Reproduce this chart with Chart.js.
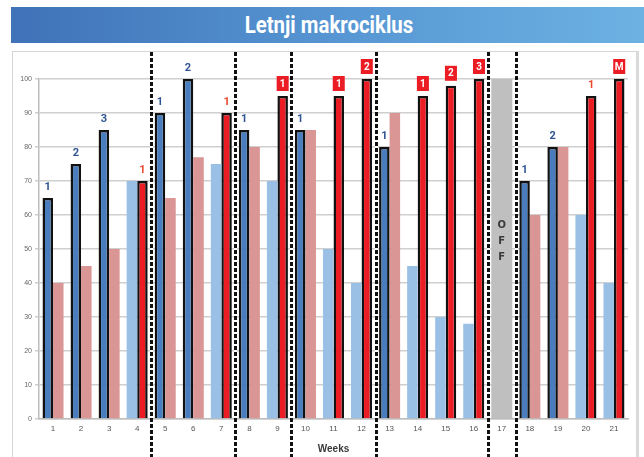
<!DOCTYPE html>
<html lang="sr">
<head>
<meta charset="UTF-8">
<title>Letnji makrociklus</title>
<style>
    body { margin: 0; background: #fff; font-family: Roboto, Arial, sans-serif; }
    .title {
        position: absolute; left: 11px; top: 7px; width: 633px; height: 36px;
        background: linear-gradient(to right, #3f72b8, #5898d4 55%, #6cb2e2);
    }
    .title span {
        position: absolute; left: 0; right: 0; top: 4px; text-align: center;
        color: #fff; font-weight: 700; font-size: 24px; line-height: 28px;
        transform: scaleX(0.85); transform-origin: 326px 0;
    }
    .panel {
        position: absolute; left: 12px; top: 51px; width: 623px; height: 410px;
        border: 1px solid #d6d6d6; border-right: 3px solid #d9d9d9;
    }
    canvas { display: block; }
</style>
</head>
<body>
<div class="title"><span>Letnji makrociklus</span></div>
<div class="panel"><canvas id="chart" width="623" height="410"></canvas></div>

<script src="https://cdn.jsdelivr.net/npm/chart.js"></script>
<script>
// weeks of the summer macrocycle
const weeks = ['1','2','3','4','5','6','7','8','9','10','11','12','13','14','15','16','17','18','19','20','21'];
// left bar (blue) and right bar (red) of each week
const blueBars = [65, 75, 85, 70, 90, 100, 75, 85, 70, 85, 50, 40, 80, 45, 30, 28, null, 70, 80, 60, 40];
const redBars  = [40, 45, 50, 70, 65, 77, 90, 80, 95, 85, 95, 100, 90, 95, 98, 100, null, 60, 80, 95, 100];
// which bar is the main one that week
const mainBar = ['blue','blue','blue','red','blue','blue','red','blue','red','blue','red','red','blue','red','red','red', null,'blue','blue','red','red'];
const marks = ['1','2','3','1','1','2','1','1','1','1','1','2','1','1','2','3','','1','2','1','M'];
const boxedWeeks = ['9','11','12','14','15','16','21'];
const offBar = [null,null,null,null,null,null,null,null,null,null,null,null,null,null,null,null,100,null,null,null,null];
const offText = 'OFF';
const separatorsAfter = ['4','7','9','12','16','17'];

const DARK_BLUE = '#4a7dbd', LIGHT_BLUE = '#9bc0e6', PINK = '#d99694', RED = '#ec1c24';

const blueColors = mainBar.map(m => m === 'blue' ? DARK_BLUE : LIGHT_BLUE);
const redColors = mainBar.map(m => m === 'red' ? RED : PINK);
const blueBorders = mainBar.map(m => m === 'blue' ? 2.5 : 0);
const redBorders = mainBar.map(m => m === 'red' ? 2.5 : 0);

const extras = {
    id: 'extras',
    afterDraw(chart) {
        const ctx = chart.ctx;
        const y = chart.scales.y;
        const x = chart.scales.x;
        ctx.save();

        // week markers above the main bars
        weeks.forEach((w, i) => {
            if (!marks[i]) return;
            const dsIndex = mainBar[i] === 'blue' ? 0 : 1;
            const bar = chart.getDatasetMeta(dsIndex).data[i];
            const top = bar.y;
            ctx.textAlign = 'center';
            ctx.textBaseline = 'middle';
            if (boxedWeeks.includes(w)) {
                ctx.fillStyle = RED;
                ctx.fillRect(bar.x - 6, top - 20, 12, 15);
                ctx.fillStyle = '#fff';
                ctx.font = 'bold 10px Roboto';
                ctx.fillText(marks[i], bar.x, top - 12);
            } else {
                ctx.fillStyle = mainBar[i] === 'blue' ? '#2f5493' : '#e8482c';
                ctx.font = 'bold 11px Roboto';
                ctx.fillText(marks[i], bar.x, top - 11);
            }
        });

        // OFF text inside the rest week
        const offIdx = offBar.findIndex(v => v !== null);
        const ox = x.getPixelForValue(offIdx);
        ctx.fillStyle = '#3a3a3a';
        ctx.font = 'bold 10px "DejaVu Sans"';
        offText.split('').forEach((c, k) => ctx.fillText(c, ox, 173 + k * 16));

        // dashed block separators
        const half = (x.getPixelForValue(1) - x.getPixelForValue(0)) / 2;
        separatorsAfter.forEach(w => {
            const px = Math.round(x.getPixelForValue(weeks.indexOf(w)) + half) + 0.5;
            ctx.strokeStyle = '#fff';
            ctx.lineWidth = 3;
            ctx.setLineDash([]);
            ctx.beginPath(); ctx.moveTo(px, y.top); ctx.lineTo(px, y.bottom); ctx.stroke();
            ctx.strokeStyle = '#111';
            ctx.setLineDash([4, 2]);
            ctx.beginPath(); ctx.moveTo(px, 0); ctx.lineTo(px, chart.height); ctx.stroke();
        });
        ctx.restore();
    }
};

new Chart(document.getElementById('chart'), {
    type: 'bar',
    data: {
        labels: weeks,
        datasets: [
            { label: 'blue', data: blueBars, backgroundColor: blueColors, borderColor: '#111', borderWidth: blueBorders },
            { label: 'red', data: redBars, backgroundColor: redColors, borderColor: '#111', borderWidth: redBorders },
            { label: 'off', data: offBar, backgroundColor: '#bfbfbf', borderWidth: 0, grouped: false }
        ]
    },
    options: {
        responsive: false,
        animation: false,
        categoryPercentage: 0.75,
        barPercentage: 1,
        layout: { padding: { top: 27, right: 8, left: 0, bottom: 0 } },
        plugins: { legend: { display: false }, tooltip: { enabled: false } },
        scales: {
            x: {
                grid: { display: false, drawTicks: false },
                border: { color: '#bdbdbd', width: 1.5 },
                ticks: { color: '#555', font: { size: 8, family: 'Liberation Sans' }, padding: 5 },
                title: { display: true, text: 'Weeks', color: '#3a3a3a', font: { size: 10, weight: 'bold', family: 'Liberation Sans' }, padding: { top: 4, bottom: 7 } },
                afterFit(s) { s.height = 43; }
            },
            y: {
                min: 0, max: 100,
                ticks: { stepSize: 10, color: '#666', font: { size: 7, family: 'Liberation Sans' }, padding: 3 },
                grid: { color: '#cfcfcf', lineWidth: 1.5, tickLength: 4 },
                border: { color: '#bdbdbd', width: 1.5 },
                afterFit(s) { s.width = 26; }
            }
        }
    },
    plugins: [extras]
});
</script>
</body>
</html>
